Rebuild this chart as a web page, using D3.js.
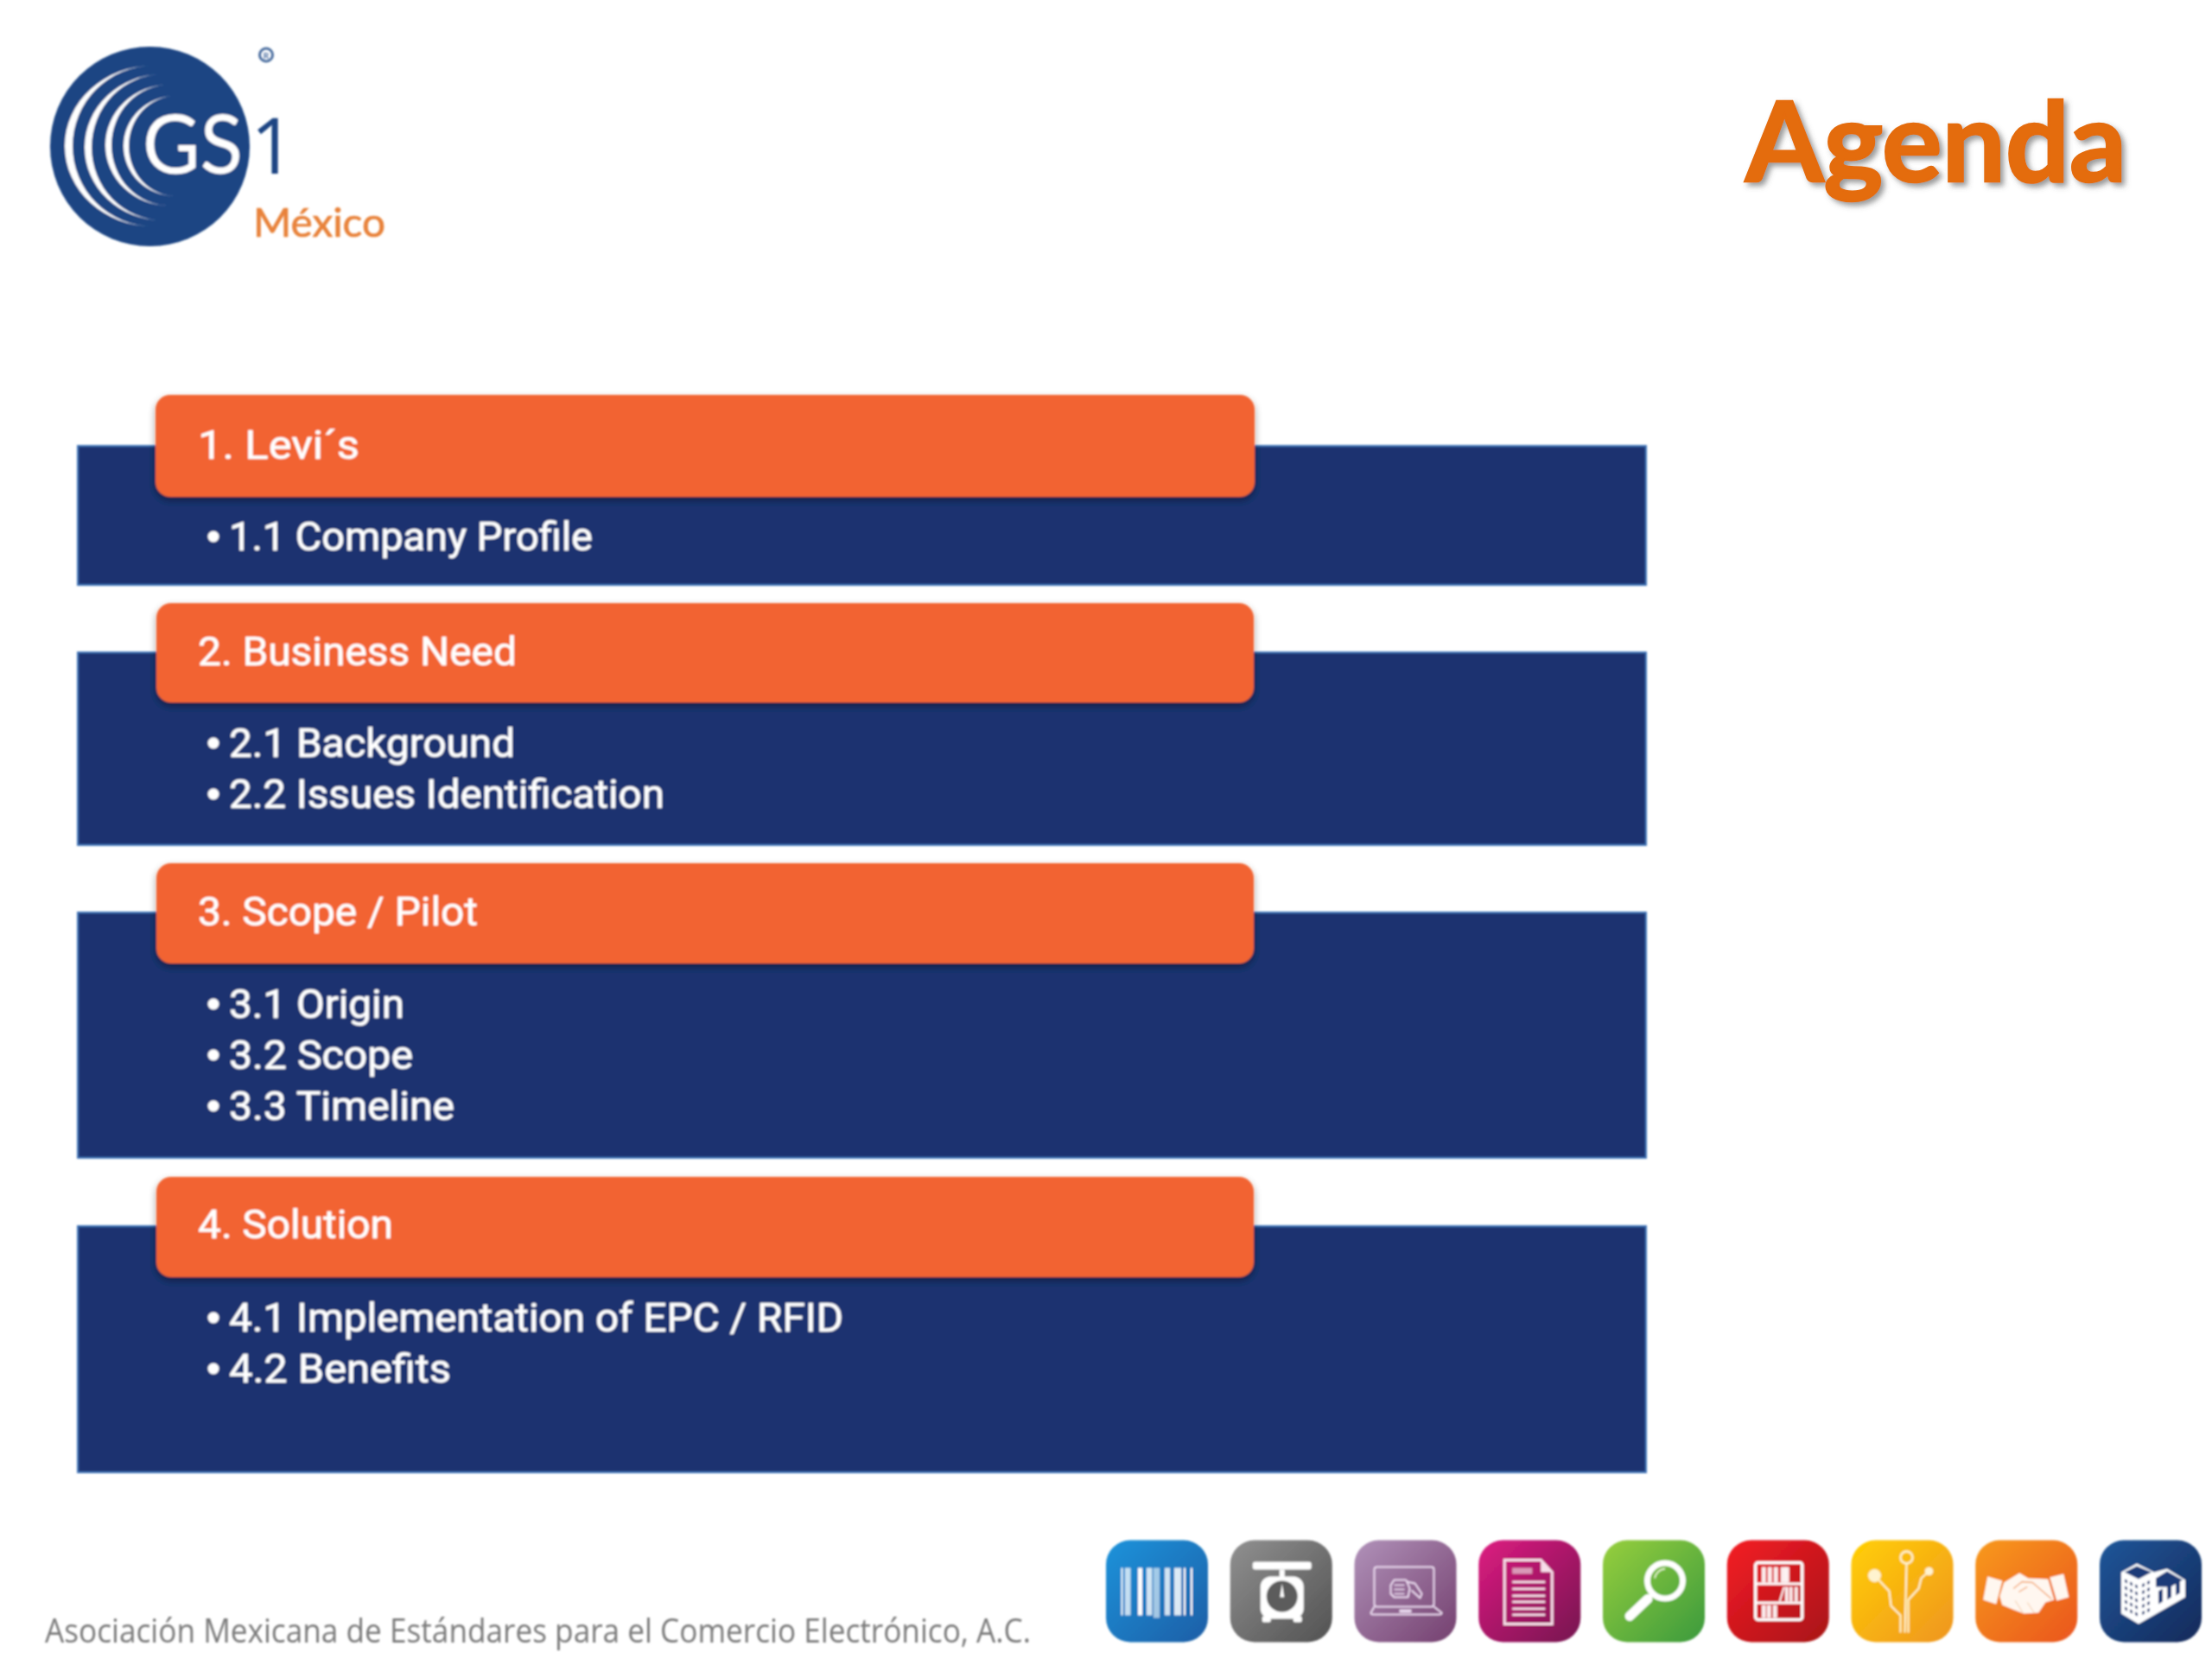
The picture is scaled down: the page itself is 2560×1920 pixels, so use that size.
<!DOCTYPE html>
<html><head><meta charset="utf-8">
<script src="https://cdn.jsdelivr.net/npm/d3@7"></script>
<style>html,body{margin:0;padding:0;background:#fff}svg{display:block}</style>
</head><body><div id="c"></div>
<script>
// ---- content ----
const title = "Agenda";
const brand = ["GS", "1", "México", "®"];
const footer = "Asociación Mexicana de Estándares para el Comercio Electrónico, A.C.";
const headings = ["1. Levi´s", "2. Business Need", "3. Scope / Pilot", "4. Solution"];
const subItems = [
  ["1.1 Company Profile"],
  ["2.1 Background", "2.2 Issues Identification"],
  ["3.1 Origin", "3.2 Scope", "3.3 Timeline"],
  ["4.1 Implementation of EPC / RFID", "4.2 Benefits"]
];
// ---- layout ----
const bandTop = [516, 755, 1056, 1419], bandBottom = [677, 978, 1340, 1704];
const tabTop = [457, 698, 999, 1362], tabBottom = [575, 813, 1115, 1478];
const tabLeft = [180, 181, 181, 181], tabRight = [1452, 1451, 1451, 1451];
const headBase = [531, 770, 1071, 1433];
const subBase = [[637], [876, 935], [1178, 1237, 1296], [1541, 1600]];
const headRight = [416, 598, 553, 455];
const subRight = [[686], [596, 769], [468, 478, 526], [976, 522]];
const iconGrads = [
  ["#1a90d8", "#1c5ea6"], ["#8d8d8d", "#525252"], ["#ad8db5", "#74406f"],
  ["#d81b7e", "#761450"], ["#92cc3c", "#3b9a3c"], ["#f01c24", "#a81418"],
  ["#ffcc05", "#ef9520"], ["#f7961e", "#ea5520"], ["#1e5496", "#15295a"]
];

const svg = d3.select("#c").append("svg").attr("width", 2560).attr("height", 1920).attr("viewBox", "0 0 2560 1920");
const defs = svg.append("defs");
const soft = defs.append("filter").attr("id", "soft").attr("x", "-2%").attr("y", "-2%").attr("width", "104%").attr("height", "104%");
soft.append("feGaussianBlur").attr("stdDeviation", 0.9);
const ds = defs.append("filter").attr("id", "tabShadow").attr("x", "-5%").attr("y", "-20%").attr("width", "110%").attr("height", "150%");
ds.append("feDropShadow").attr("dx", 0).attr("dy", 4).attr("stdDeviation", 4).attr("flood-color", "#000").attr("flood-opacity", 0.4);
const ts = defs.append("filter").attr("id", "titleShadow").attr("x", "-5%").attr("y", "-10%").attr("width", "110%").attr("height", "130%");
ts.append("feDropShadow").attr("dx", 4).attr("dy", 4).attr("stdDeviation", 3).attr("flood-color", "#555").attr("flood-opacity", 0.6);

const root = svg.append("g");
const fit = (sel, w) => sel.attr("textLength", w).attr("lengthAdjust", "spacingAndGlyphs");

// ---- logo ----
const logo = root.append("g").attr("filter", "url(#soft)");
logo.append("circle").attr("cx", 173.5).attr("cy", 169.5).attr("r", 115.5).attr("fill", "#1b4583");
const arcs = [[177, 169, 102, 93, 9], [188, 170.5, 90, 84.5, 8], [196, 168, 74, 70, 7], [203, 169, 60, 58, 6]];
logo.selectAll("path.arc").data(arcs).join("path").attr("class", "arc").attr("fill", "#fff")
  .attr("d", ([ex, cy, s, h, t]) => `M${ex},${cy - h}A${s},${h} 0 0 0 ${ex},${cy + h}A${s - t},${h} 0 0 1 ${ex},${cy - h}Z`);
logo.append("text").text(brand[0]).attr("x", 165).attr("y", 201).attr("font-family", "Lato").attr("font-size", 95).attr("fill", "#fff").call(fit, 116);
logo.append("text").text(brand[1]).attr("x", 290).attr("y", 201).attr("font-family", "Open Sans").attr("font-size", 90).attr("fill", "#1b4583");
logo.append("text").text(brand[2]).attr("x", 293).attr("y", 274).attr("font-family", "Lato").attr("font-size", 46).attr("fill", "#e8823a")
  .attr("stroke", "#e8823a").attr("stroke-width", 0.7).call(fit, 153);
logo.append("circle").attr("cx", 308).attr("cy", 63.5).attr("r", 7.5).attr("fill", "none").attr("stroke", "#4a6d9f").attr("stroke-width", 3);
logo.append("text").text("R").attr("x", 308).attr("y", 67.5).attr("text-anchor", "middle").attr("font-family", "Lato").attr("font-size", 10).attr("font-weight", 700).attr("fill", "#4a6d9f");

// ---- title ----
root.append("text").text(title).attr("x", 2020).attr("y", 210).attr("font-family", "Lato").attr("font-weight", 700)
  .attr("font-size", 128).attr("fill", "#e46c0a").attr("stroke", "#e46c0a").attr("stroke-width", 2.5)
  .attr("filter", "url(#titleShadow)").call(fit, 441);

// ---- bands ----
const body = root.append("g").attr("filter", "url(#soft)");
const FONT = "Roboto";
headings.forEach((h, i) => {
  body.append("rect").attr("x", 90).attr("y", bandTop[i]).attr("width", 1815).attr("height", bandBottom[i] - bandTop[i])
    .attr("fill", "#1a3370").attr("stroke", "#3f74b8").attr("stroke-width", 2);
});
headings.forEach((h, i) => {
  body.append("rect").attr("x", tabLeft[i]).attr("y", tabTop[i]).attr("width", tabRight[i] - tabLeft[i]).attr("height", tabBottom[i] - tabTop[i])
    .attr("rx", 17).attr("fill", "#f26433").attr("filter", "url(#tabShadow)");
  body.append("text").text(h).attr("x", 229).attr("y", headBase[i]).attr("font-family", FONT).attr("font-weight", 400)
    .attr("font-size", 46).attr("fill", "#fff").attr("stroke", "#fff").attr("stroke-width", 0.5).call(fit, headRight[i] - 229);
  subItems[i].forEach((s, j) => {
    const y = subBase[i][j];
    body.append("circle").attr("cx", 247).attr("cy", y - 16).attr("r", 6.5).attr("fill", "#fff");
    body.append("text").text(s).attr("x", 265).attr("y", y).attr("font-family", FONT).attr("font-weight", 400)
      .attr("font-size", 46).attr("fill", "#fff").attr("stroke", "#fff").attr("stroke-width", 0.5).call(fit, subRight[i][j] - 265);
  });
});

// ---- footer ----
root.append("text").text(footer).attr("x", 52).attr("y", 1901).attr("font-family", "Open Sans").attr("font-size", 38)
  .attr("fill", "#7a7a7a").attr("filter", "url(#soft)").call(fit, 1141);

// ---- icons ----
const W = "#fff";
const poly = (g, pts, fill) => g.append("polygon").attr("points", pts.map(p => p.join(",")).join(" ")).attr("fill", fill || W);
const rect = (g, x, y, w, h, fill, rx) => g.append("rect").attr("x", x).attr("y", y).attr("width", w).attr("height", h).attr("fill", fill || W).attr("rx", rx || 0);
const line = (g, pts, sw, col, op) => g.append("path").attr("d", d3.line()(pts)).attr("fill", "none").attr("stroke", col || W).attr("stroke-width", sw).attr("stroke-opacity", op == null ? 1 : op).attr("stroke-linejoin", "round");
const drawers = [
  g => { // barcode
    [[17.5,2,1],[22,6.5,.75],[37,5,1],[47,6.5,.8],[55,7,.6],[68,6,.8],[79,8,.85],[90,2,1],[98,2,1]].forEach(([x,w,o],i) =>
      rect(g, x, 32, w, i === 4 ? 58 : 55).attr("opacity", o));
  },
  g => { // scale
    rect(g, 26, 25, 68, 9, W, 3); rect(g, 57, 34, 6, 9);
    rect(g, 35, 42, 50, 49, W, 12); rect(g, 37, 88, 10, 7, W, 2); rect(g, 73, 88, 10, 7, W, 2);
    g.append("circle").attr("cx", 60).attr("cy", 65).attr("r", 18).attr("fill", "#5c5c5c");
    poly(g, [[60,50],[62.5,66],[57.5,66]]);
  },
  g => { // laptop
    const c = "#e9d8ee";
    g.append("rect").attr("x",23).attr("y",31).attr("width",69).attr("height",46).attr("rx",3).attr("fill","none").attr("stroke",c).attr("stroke-width",2);
    g.append("path").attr("d","M23,77L19,84Q19,86 22,86H98Q101,86 101,84L92,77").attr("fill","none").attr("stroke",c).attr("stroke-width",2);
    rect(g,52,80,14,4,c);
    line(g,[[60,46],[46,46],[42,52],[42,62],[46,66],[62,66],[64,56],[60,46]],2,c);
    line(g,[[60,48],[70,50],[78,62],[76,67],[66,58]],2,c);
    [[46,52],[46,57],[46,62]].forEach(([x,y]) => line(g,[[x,y],[x+12,y]],1.6,c));
  },
  g => { // document
    g.append("path").attr("d","M30,23H72L85,37V97H30Z").attr("fill","none").attr("stroke","#f7dfe9").attr("stroke-width",3);
    poly(g,[[72,24],[84,37],[72,37]],"#f7dfe9");
    rect(g,39,32,23,7,"#d99ab8");
    [48,56,64,71,79,86].forEach(y => rect(g,39,y-1,38,2.6,"#f7dfe9"));
  },
  g => { // magnifier
    g.append("circle").attr("cx",72).attr("cy",47).attr("r",20.5).attr("fill","none").attr("stroke",W).attr("stroke-width",7);
    g.append("path").attr("d","M60,44A13,13 0 0 1 72,33").attr("fill","none").attr("stroke","#dff0c8").attr("stroke-width",2);
    line(g,[[58,62],[52,68]],5);
    line(g,[[52,68],[31,88]],11).attr("stroke-linecap","round");
  },
  g => { // bookshelf
    g.append("rect").attr("x",33).attr("y",26).attr("width",54).attr("height",66).attr("rx",3).attr("fill","none").attr("stroke",W).attr("stroke-width",3.5);
    rect(g,33,49,54,3); rect(g,33,71,54,3);
    [40,47,54,62,67].forEach(x => rect(g,x,31,x===62?6:5,18,W).attr("opacity",.92));
    [67,72,78].forEach(x => rect(g,x,54,4,17,W).attr("opacity",.92));
    poly(g,[[60,71],[65,54],[67,54],[62,71]]);
    [40,46,53].forEach(x => rect(g,x,75,5,15,W).attr("opacity",.92));
  },
  g => { // circuit
    const c = "#fff3cf";
    g.append("circle").attr("cx",64).attr("cy",20).attr("r",7).attr("fill","none").attr("stroke",c).attr("stroke-width",2.4);
    g.append("circle").attr("cx",27).attr("cy",41).attr("r",7.5).attr("fill",c);
    g.append("circle").attr("cx",90).attr("cy",36).attr("r",4.8).attr("fill",c);
    line(g,[[64,27],[62,107]],2.2,c);
    line(g,[[27,41],[44,59],[46,76],[57,87],[57,107]],2.2,c);
    line(g,[[90,36],[81,44],[78,56],[66,69],[66,107]],2.2,c);
  },
  g => { // handshake
    const c = "#fff7f0";
    poly(g,[[14,42],[31,47],[24,74],[9,69]],c);
    poly(g,[[86,43],[102,39],[108,66],[94,70]],c);
    poly(g,[[33,49],[51,38],[61,44],[84,45],[91,69],[81,72],[73,84],[56,85],[43,80],[31,75],[28,65]],c);
    line(g,[[44,56],[54,48],[66,49],[88,68]],1.4,"#f3a36a");
    line(g,[[50,60],[60,54]],1.2,"#f3a36a");
    line(g,[[55,84],[46,70]],1,"#f3c49e"); line(g,[[68,84],[60,72]],1,"#f3c49e");
  },
  g => { // building
    const n = "#1a3a78";
    poly(g,[[25,37],[43,27],[63,37],[78,33],[99,46],[99,66],[45,97],[25,85]]);
    poly(g,[[43,30],[60,37],[45,45],[29,37]],n);
    poly(g,[[65,44],[78,36],[96,46],[82,54],[65,54]],n);
    [0,1,2].forEach(i => poly(g,[[68+i*10,59-i*5],[73+i*10,56-i*5],[73+i*10,71-i*5],[68+i*10,74-i*5]],n));
    [0,1,2,3,4].forEach(r => [0,1,2].forEach(k => {
      const x = 29 + k * 6, y = 45 + r * 8 + k * 3;
      poly(g,[[x,y],[x+3,y+1.5],[x+3,y+5],[x,y+3.5]],n);
    }));
    [0,1,2,3,4].forEach(r => [0,1].forEach(k => {
      const x = 49 + k * 6, y = 51 + r * 8 - k * 3;
      poly(g,[[x,y],[x+3,y-1.5],[x+3,y+2],[x,y+3.5]],n);
    }));
  }
];
const iconX = d3.scaleLinear().domain([0, 8]).range([1280, 2430]);
const icons = root.append("g").attr("filter", "url(#soft)");
iconGrads.forEach((c, i) => {
  const lg = defs.append("linearGradient").attr("id", "ig" + i).attr("x1", 0).attr("y1", 0).attr("x2", 1).attr("y2", 1);
  lg.append("stop").attr("offset", "5%").attr("stop-color", c[0]);
  lg.append("stop").attr("offset", "100%").attr("stop-color", c[1]);
  const g = icons.append("g").attr("transform", `translate(${iconX(i)},1782.5)`);
  g.append("rect").attr("width", 118).attr("height", 118).attr("rx", 28).attr("fill", `url(#ig${i})`);
  drawers[i](g);
});
</script></body></html>
